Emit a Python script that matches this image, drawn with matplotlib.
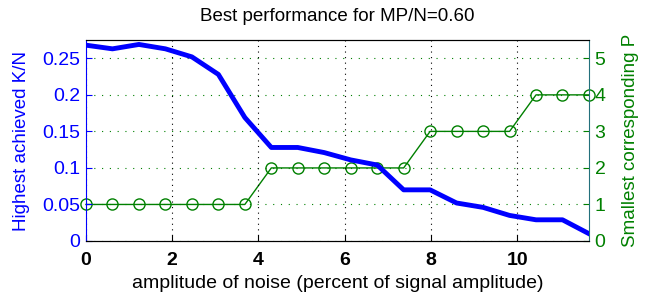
import numpy as np
import matplotlib.pyplot as plt

plt.rcParams['font.family'] = ['Liberation Sans', 'DejaVu Sans']

### Donnees

bruit = [0.0, 0.614, 1.228, 1.842, 2.456, 3.071, 3.685, 4.299, 4.913, 5.527,
         6.141, 6.755, 7.369, 7.983, 8.597, 9.212, 9.826, 10.44, 11.054, 11.668]
KN = [0.268, 0.263, 0.269, 0.263, 0.252, 0.228, 0.169, 0.128, 0.128, 0.121,
      0.111, 0.104, 0.070, 0.070, 0.052, 0.046, 0.035, 0.029, 0.029, 0.010]
P = [1, 1, 1, 1, 1, 1, 1, 2, 2, 2, 2, 2, 2, 3, 3, 3, 3, 4, 4, 4]

bleu = (0, 0, 1)
vert = (0, 0.5, 0)

### Figure

fig = plt.figure(figsize=(6.49, 2.99), dpi=100)
ax1 = fig.add_axes([0.1325, 0.194, 0.775, 0.672])
ax2 = ax1.twinx()

ax1.plot(bruit, KN, color=bleu, linewidth=3.5)
ax2.plot(bruit, P, "o-", color=vert, linewidth=1, markersize=8,
         markerfacecolor="none", markeredgewidth=1, clip_on=False)

ax1.set_xlim(0, 11.668)
ax1.set_ylim(0, 0.275)
ax2.set_ylim(0, 5.5)
ax1.set_xticks([0, 2, 4, 6, 8, 10])
ax1.set_yticks([0, 0.05, 0.1, 0.15, 0.2, 0.25])
ax1.set_yticklabels(["0", "0.05", "0.1", "0.15", "0.2", "0.25"])
ax2.set_yticks([0, 1, 2, 3, 4, 5])

ax1.xaxis.grid(True, linestyle=(0, (1, 4)), color="black", linewidth=0.8)
ax2.yaxis.grid(True, linestyle=(0, (1, 6)), color=vert, linewidth=0.8)
ax2.set_zorder(ax1.get_zorder() - 1)
ax1.patch.set_visible(False)

ax1.tick_params(axis="x", direction="in", labelsize=14, colors="black", length=4, pad=8)
ax1.tick_params(axis="y", direction="in", labelsize=14, colors=bleu, length=4, pad=4)
ax2.tick_params(axis="y", direction="in", labelsize=14, colors=vert, length=4, pad=4)
for lab in ax1.get_xticklabels():
    lab.set_fontweight("bold")

ax1.spines["left"].set_color(bleu)
ax1.spines["right"].set_visible(False)
ax2.spines["left"].set_visible(False)
ax2.spines["right"].set_color("#23707c")
ax2.spines["top"].set_color("#222222")
ax2.spines["bottom"].set_color("black")

ax1.set_xlabel("amplitude of noise (percent of signal amplitude)", fontsize=14, labelpad=4)
ax1.set_ylabel("Highest achieved K/N", fontsize=13.5, color=bleu, labelpad=9)
ax2.set_ylabel("Smallest corresponding P", fontsize=13.5, color=vert, labelpad=12)
ax1.set_title("Best performance for MP/N=0.60", fontsize=13.5, pad=14)

plt.savefig("out.png", dpi=100)
